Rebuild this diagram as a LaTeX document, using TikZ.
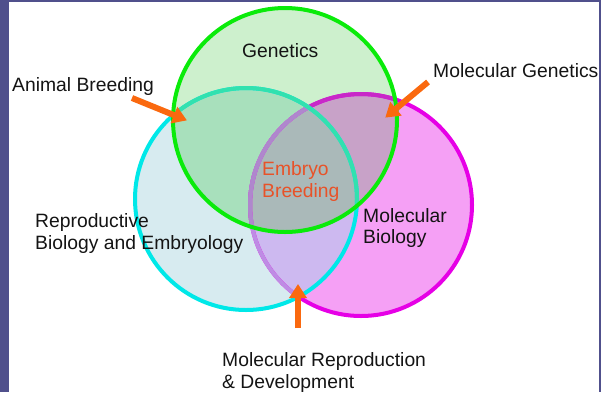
\documentclass[tikz,border=0pt]{standalone}
\usepackage{fontspec}
\setmainfont{Liberation Sans}
\usetikzlibrary{arrows.meta}
\definecolor{bordercol}{RGB}{80,80,140}
\definecolor{gstroke}{RGB}{10,235,10}
\definecolor{cstroke}{RGB}{0,232,232}
\definecolor{pstroke}{RGB}{230,0,230}
\definecolor{gfill}{RGB}{205,240,205}
\definecolor{cfill}{RGB}{215,235,240}
\definecolor{pfill}{RGB}{245,160,245}
\definecolor{gcfill}{RGB}{168,224,188}
\definecolor{gpfill}{RGB}{200,162,200}
\definecolor{cpfill}{RGB}{205,185,240}
\definecolor{gcpfill}{RGB}{170,185,185}
\definecolor{plilac}{RGB}{190,140,228}
\definecolor{pgreen}{RGB}{200,40,200}
\definecolor{pgc}{RGB}{175,135,205}
\definecolor{cgreen}{RGB}{50,225,175}
\definecolor{arrowcol}{RGB}{250,105,15}
\definecolor{txt}{RGB}{20,20,20}
\definecolor{embcol}{RGB}{232,82,40}
\tikzset{
  lbl/.style={anchor=base west, inner sep=0pt, text=txt, font=\fontsize{19.3}{22}\selectfont},
  emb/.style={lbl, text=embcol},
  ring/.style={line width=4pt},
  bigarrow/.style={draw=arrowcol, line width=6pt, -{Triangle[length=14pt,width=17pt]}, shorten >=-1pt}
}
\begin{document}
\begin{tikzpicture}[x=1pt,y=-1pt]
\useasboundingbox (0,0) rectangle (601,392);
\fill[bordercol] (0,0) rectangle (601,392);
\fill[white] (9,2) rectangle (599,392);
\coordinate (G) at (285,120);
\coordinate (C) at (246,199);
\coordinate (P) at (361,205);
\def\rG{112pt}\def\rC{111pt}\def\rP{111pt}
% solo fills
\fill[pfill] (P) circle[radius=\rP];
\fill[cfill] (C) circle[radius=\rC];
\fill[gfill] (G) circle[radius=\rG];
% pairwise
\begin{scope}\clip (G) circle[radius=\rG]; \fill[gcfill] (C) circle[radius=\rC]; \end{scope}
\begin{scope}\clip (G) circle[radius=\rG]; \fill[gpfill] (P) circle[radius=\rP]; \end{scope}
\begin{scope}\clip (C) circle[radius=\rC]; \fill[cpfill] (P) circle[radius=\rP]; \end{scope}
\begin{scope}\clip (G) circle[radius=\rG]; \clip (C) circle[radius=\rC]; \fill[gcpfill] (P) circle[radius=\rP]; \end{scope}
% magenta stroke
\draw[ring, pstroke] (P) circle[radius=\rP];
\begin{scope}\clip (G) circle[radius=\rG]; \draw[ring, pgreen] (P) circle[radius=\rP]; \end{scope}
\begin{scope}\clip (C) circle[radius=\rC]; \draw[ring, plilac] (P) circle[radius=\rP]; \end{scope}
\begin{scope}\clip (C) circle[radius=\rC]; \clip (G) circle[radius=\rG]; \draw[ring, pgc] (P) circle[radius=\rP]; \end{scope}
% cyan stroke
\draw[ring, cstroke] (C) circle[radius=\rC];
\begin{scope}\clip (G) circle[radius=\rG]; \draw[ring, cgreen] (C) circle[radius=\rC]; \end{scope}
% green stroke
\draw[ring, gstroke] (G) circle[radius=\rG];
% labels
\node[lbl] (genetics) at (242,57) {Genetics};
\node[lbl] (animal) at (12,91) {Animal Breeding};
\node[lbl] (molgen) at (433,77) {Molecular Genetics};
\node[emb] (emb1) at (262,175) {Embryo};
\node[emb] (emb2) at (262,197) {Breeding};
\node[lbl] (repro1) at (35,227) {Reproductive};
\node[lbl] (repro2) at (35,249) {Biology and Embryology};
\node[lbl] (molbio1) at (363,222) {Molecular};
\node[lbl] (molbio2) at (363,243) {Biology};
\node[lbl] (molrep1) at (222,366) {Molecular Reproduction};
\node[lbl] (molrep2) at (222,388) {\& Development};
% arrows
\coordinate (aTail) at (132,98);
\coordinate (aTip) at (186,120);
\coordinate (mTail) at (428,82);
\coordinate (mTip) at (386,117);
\coordinate (bTail) at (298,328);
\coordinate (bTip) at (298,285);
\draw[bigarrow] (aTail) -- (aTip);
\draw[bigarrow] (mTail) -- (mTip);
\draw[bigarrow] (bTail) -- (bTip);
\end{tikzpicture}
\end{document}
